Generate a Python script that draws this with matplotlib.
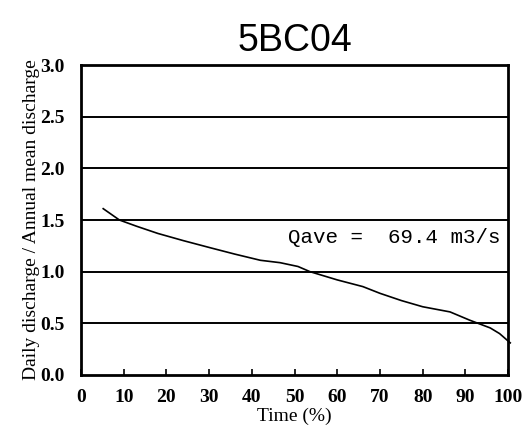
import matplotlib
matplotlib.use("Agg")
import matplotlib.pyplot as plt

# flow duration curve
time_pct = [5.2, 9, 13, 18, 24, 30.4, 36, 42, 46.6, 50.8, 53.6, 60, 66, 70, 75, 80, 86.4, 91, 95.8, 98, 100.5]
ratio = [1.61, 1.50, 1.44, 1.37, 1.30, 1.23, 1.17, 1.11, 1.087, 1.05, 1.00, 0.92, 0.855, 0.79, 0.72, 0.66, 0.61, 0.53, 0.455, 0.40, 0.31]

x_ticks = list(range(0, 101, 10))
y_ticks = [0.0, 0.5, 1.0, 1.5, 2.0, 2.5, 3.0]
y_tick_labels = ["0.0", "0.5", "1.0", "1.5", "2.0", "2.5", "3.0"]

serif = ["Liberation Serif", "DejaVu Serif"]

fig = plt.figure(figsize=(5.26, 4.26), dpi=100)
ax = fig.add_axes([0.154, 0.12, 0.812, 0.727])

for y in y_ticks[1:-1]:
    ax.axhline(y, color="black", linewidth=1.4)
ax.plot(time_pct, ratio, color="black", linewidth=1.2, clip_on=False)

ax.set_xlim(0, 100)
ax.set_ylim(0, 3.0)
ax.set_xticks(x_ticks)
ax.set_yticks(y_ticks)
ax.set_yticklabels(y_tick_labels)
ax.tick_params(axis="x", direction="in", length=4, width=1.2, pad=10,
               labelsize=14, top=False)
ax.tick_params(axis="y", direction="in", length=0, pad=12, labelsize=14)
for lab in ax.get_xticklabels() + ax.get_yticklabels():
    lab.set_family(serif)
    lab.set_fontweight("bold")
for sp in ax.spines.values():
    sp.set_linewidth(2)

ax.set_xlabel("Time (%)", family=serif, fontsize=14)
ax.xaxis.set_label_coords(0.5, -0.105)
ax.set_ylabel("Daily discharge / Annual mean discharge", family=serif,
              fontsize=14, labelpad=0)
ax.set_title("5BC04", family=["Liberation Sans", "DejaVu Sans"], fontsize=27, pad=10)

ax.text(0.485, 0.445, "Qave =  69.4 m3/s", transform=ax.transAxes, ha="left",
        va="center", family=["Liberation Mono", "DejaVu Sans Mono"],
        fontsize=15)

fig.savefig("out.png", dpi=100)
